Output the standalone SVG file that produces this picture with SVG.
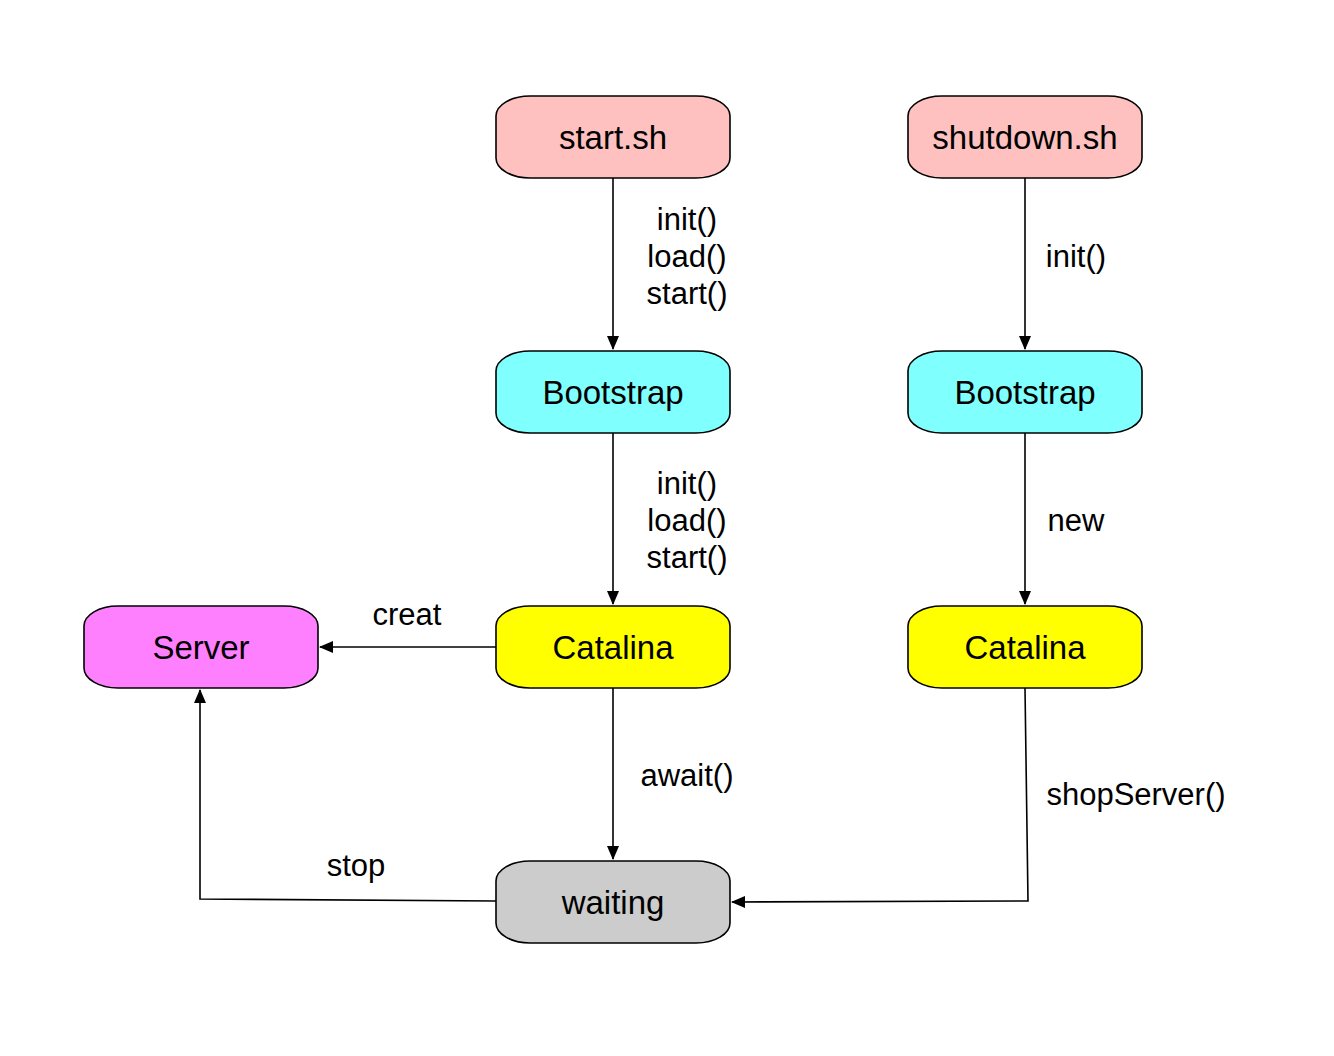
<svg xmlns="http://www.w3.org/2000/svg" width="1334" height="1056" viewBox="0 0 1334 1056">
<defs>
<style>
.n{stroke:#000;stroke-width:1.6}
.t{font-family:"Liberation Sans",Arial,sans-serif;font-size:33px;fill:#000;text-anchor:middle;dominant-baseline:central}
.l{font-family:"Liberation Sans",Arial,sans-serif;font-size:31px;fill:#000;text-anchor:middle;dominant-baseline:central}
.c{fill:none;stroke:#000;stroke-width:1.6}
</style>
<marker id="a" markerWidth="14" markerHeight="14" viewBox="0 0 14 12" refX="13" refY="6" orient="auto" markerUnits="userSpaceOnUse">
<path d="M0,0 L14,6 L0,12 Z" fill="#000"/>
</marker>
</defs>
<rect width="1334" height="1056" fill="#fff"/>
<g id="connectors">
<path class="c" d="M613,178 V349" marker-end="url(#a)"/>
<path class="c" d="M613,433 V604" marker-end="url(#a)"/>
<path class="c" d="M496,647 H320" marker-end="url(#a)"/>
<path class="c" d="M613,688 V859" marker-end="url(#a)"/>
<path class="c" d="M496,901 L200,899 V690" marker-end="url(#a)"/>
<path class="c" d="M1025,178 V349" marker-end="url(#a)"/>
<path class="c" d="M1025,433 V604" marker-end="url(#a)"/>
<path class="c" d="M1025,688 L1028,901 L732,902" marker-end="url(#a)"/>
<text class="l" x="687" y="219">init()</text>
<text class="l" x="687" y="256">load()</text>
<text class="l" x="687" y="293">start()</text>
<text class="l" x="687" y="483">init()</text>
<text class="l" x="687" y="520">load()</text>
<text class="l" x="687" y="557">start()</text>
<text class="l" x="407" y="614">creat</text>
<text class="l" x="687" y="775">await()</text>
<text class="l" x="356" y="865">stop</text>
<text class="l" x="1076" y="256">init()</text>
<text class="l" x="1076" y="520">new</text>
<text class="l" x="1136" y="794">shopServer()</text>
</g>
<g id="start_sh"><rect class="n" x="496" y="96" width="234" height="82" rx="34" ry="20" fill="#FFC0C0"/><text class="t" x="613" y="137">start.sh</text></g>
<g id="shutdown_sh"><rect class="n" x="908" y="96" width="234" height="82" rx="34" ry="20" fill="#FFC0C0"/><text class="t" x="1025" y="137">shutdown.sh</text></g>
<g id="bootstrap1"><rect class="n" x="496" y="351" width="234" height="82" rx="34" ry="20" fill="#80FFFF"/><text class="t" x="613" y="392">Bootstrap</text></g>
<g id="bootstrap2"><rect class="n" x="908" y="351" width="234" height="82" rx="34" ry="20" fill="#80FFFF"/><text class="t" x="1025" y="392">Bootstrap</text></g>
<g id="catalina1"><rect class="n" x="496" y="606" width="234" height="82" rx="34" ry="20" fill="#FFFF00"/><text class="t" x="613" y="647">Catalina</text></g>
<g id="catalina2"><rect class="n" x="908" y="606" width="234" height="82" rx="34" ry="20" fill="#FFFF00"/><text class="t" x="1025" y="647">Catalina</text></g>
<g id="server"><rect class="n" x="84" y="606" width="234" height="82" rx="34" ry="20" fill="#FF80FF"/><text class="t" x="201" y="647">Server</text></g>
<g id="waiting"><rect class="n" x="496" y="861" width="234" height="82" rx="34" ry="20" fill="#CCCCCC"/><text class="t" x="613" y="902">waiting</text></g>
</svg>
